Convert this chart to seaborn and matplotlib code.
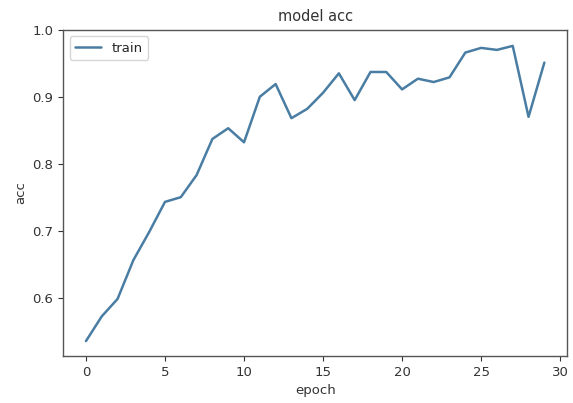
#####----- IMPORTS
import numpy as np
import pandas as pd
import seaborn as sns
import matplotlib.pyplot as plt

#####----- DATA
epochs = list(range(30))
train_acc = [0.535, 0.572, 0.598, 0.656, 0.698, 0.743, 0.750, 0.783, 0.837, 0.853,
             0.832, 0.900, 0.919, 0.868, 0.882, 0.906, 0.935, 0.895, 0.937, 0.937,
             0.911, 0.927, 0.922, 0.929, 0.966, 0.973, 0.970, 0.976, 0.870, 0.951]
x_ticks = [0, 5, 10, 15, 20, 25, 30]
y_ticks = [0.6, 0.7, 0.8, 0.9, 1.0]

#####----- PLOT
df = pd.DataFrame({'epoch': epochs, 'acc': train_acc})

sns.set_style("ticks")
plt.rcParams['font.family'] = ['DejaVu Sans']

fig = plt.figure(figsize=(5.73, 4.03), dpi=100)
ax = fig.add_axes([0.110, 0.117, 0.880, 0.809])

sns.lineplot(data=df, x='epoch', y='acc', color='#4a7da3', linewidth=1.8,
             label='train', ax=ax)

ax.set_xticks(x_ticks)
ax.set_yticks(y_ticks)
ax.set_xlim(-1.45, 30.45)
ax.set_ylim(0.513, 1.0)
ax.tick_params(labelsize=9.5, colors='#333333', length=3.5)
for s in ax.spines.values():
    s.set_color('#555555')
    s.set_linewidth(1.0)

ax.set_xlabel('epoch', fontsize=9.5, color='#333333')
ax.set_ylabel('acc', fontsize=9.5, color='#333333')
ax.set_title('model acc', fontsize=10.5, color='#333333')
ax.legend(loc='upper left', fontsize=9.5, frameon=True)

plt.savefig("out.png", dpi=100)
